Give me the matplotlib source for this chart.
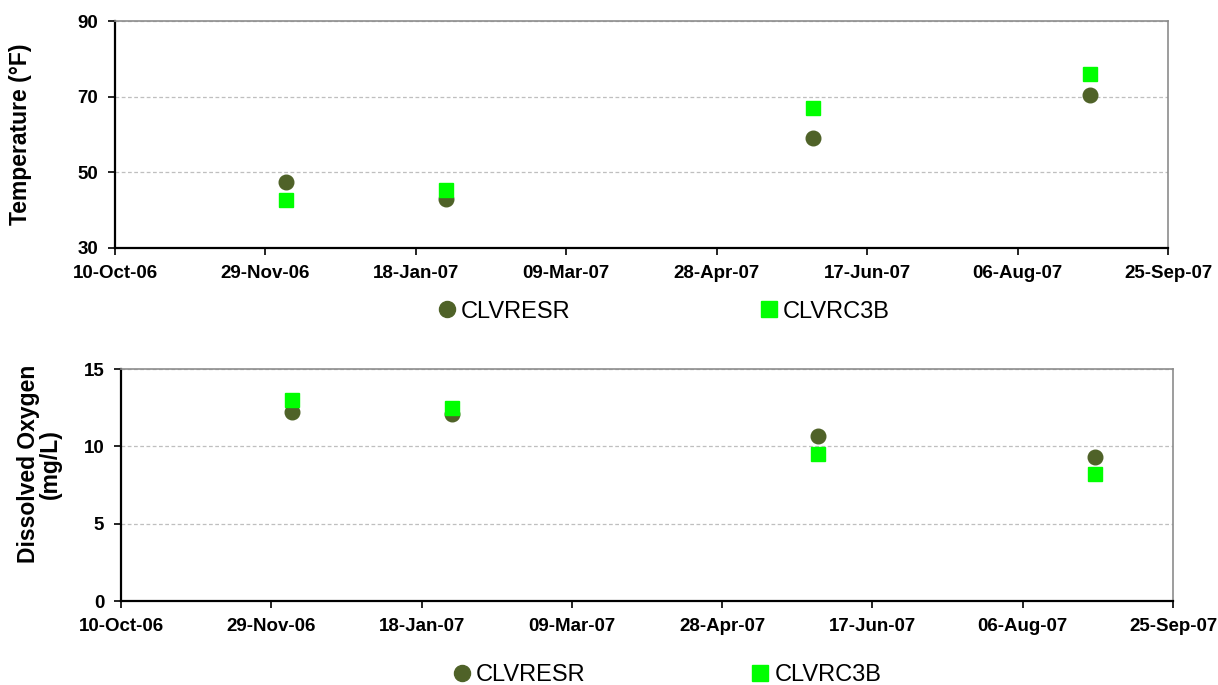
import matplotlib
matplotlib.use('Agg')
import matplotlib.pyplot as plt
import matplotlib.dates as mdates
import pandas as pd

plt.rcParams['font.family'] = ['Liberation Sans', 'DejaVu Sans']

# sampling dates (same for both sites)
dates = pd.to_datetime(['2006-12-06', '2007-01-28', '2007-05-30', '2007-08-30'])

# temperature (F)
temp_clvresr = [47.5, 42.9, 59.2, 70.4]
temp_clvrc3b = [42.7, 45.3, 67.1, 76.1]

# dissolved oxygen (mg/L)
do_clvresr = [12.2, 12.1, 10.7, 9.3]
do_clvrc3b = [13.0, 12.5, 9.5, 8.2]

x_start = pd.Timestamp('2006-10-10')
x_end = pd.Timestamp('2007-09-25')
x_ticks = pd.date_range(x_start, x_end, freq='50D')

C_RESR = '#4F6228'
C_C3B = '#00FF00'

fig = plt.figure(figsize=(12.18, 6.85), dpi=100)
ax1 = fig.add_axes([115/1218, 1-248/685, 1053/1218, 227/685])
ax2 = fig.add_axes([121/1218, 1-601/685, 1052/1218, 232/685])


def style_axes(ax, resr, c3b, yticks, ylabel, lab_xy, leg_xy, colspace):
    ax.plot(dates, resr, 'o', color=C_RESR, markersize=10.5, label='CLVRESR', zorder=3)
    ax.plot(dates, c3b, 's', color=C_C3B, markersize=10.5, label='CLVRC3B', zorder=4)
    ax.set_xlim(x_start, x_end)
    ax.set_xticks(x_ticks)
    ax.xaxis.set_major_formatter(mdates.DateFormatter('%d-%b-%y'))
    ax.set_ylim(yticks[0], yticks[-1])
    ax.set_yticks(yticks)
    ax.yaxis.grid(True, linestyle='--', color='#BFBFBF', linewidth=0.9, dashes=(3, 2))
    ax.set_axisbelow(True)
    for s in ['left', 'bottom']:
        ax.spines[s].set_color('black')
        ax.spines[s].set_linewidth(1.6)
    for s in ['top', 'right']:
        ax.spines[s].set_color('#8C8C8C')
        ax.spines[s].set_linewidth(1.2)
    ax.tick_params(axis='both', direction='out', length=5, width=1.2, labelsize=13.5, pad=7)
    for lbl in ax.get_xticklabels() + ax.get_yticklabels():
        lbl.set_fontweight('bold')
    ax.set_ylabel(ylabel, fontsize=16.5, fontweight='bold', linespacing=0.95)
    ax.yaxis.set_label_coords(*lab_xy)
    ax.legend(loc='center', bbox_to_anchor=leg_xy, ncol=2, frameon=False,
              fontsize=17, handlelength=0.8, handletextpad=0.2,
              columnspacing=colspace, markerscale=1.1)


style_axes(ax1, temp_clvresr, temp_clvrc3b, [30, 50, 70, 90], 'Temperature (°F)',
           (-0.079, 0.5), (0.521, -0.28), 8.0)
style_axes(ax2, do_clvresr, do_clvrc3b, [0, 5, 10, 15], 'Dissolved Oxygen\n(mg/L)',
           (-0.056, 0.59), (0.519, -0.32), 7.0)

plt.savefig('out.png', dpi=100)
